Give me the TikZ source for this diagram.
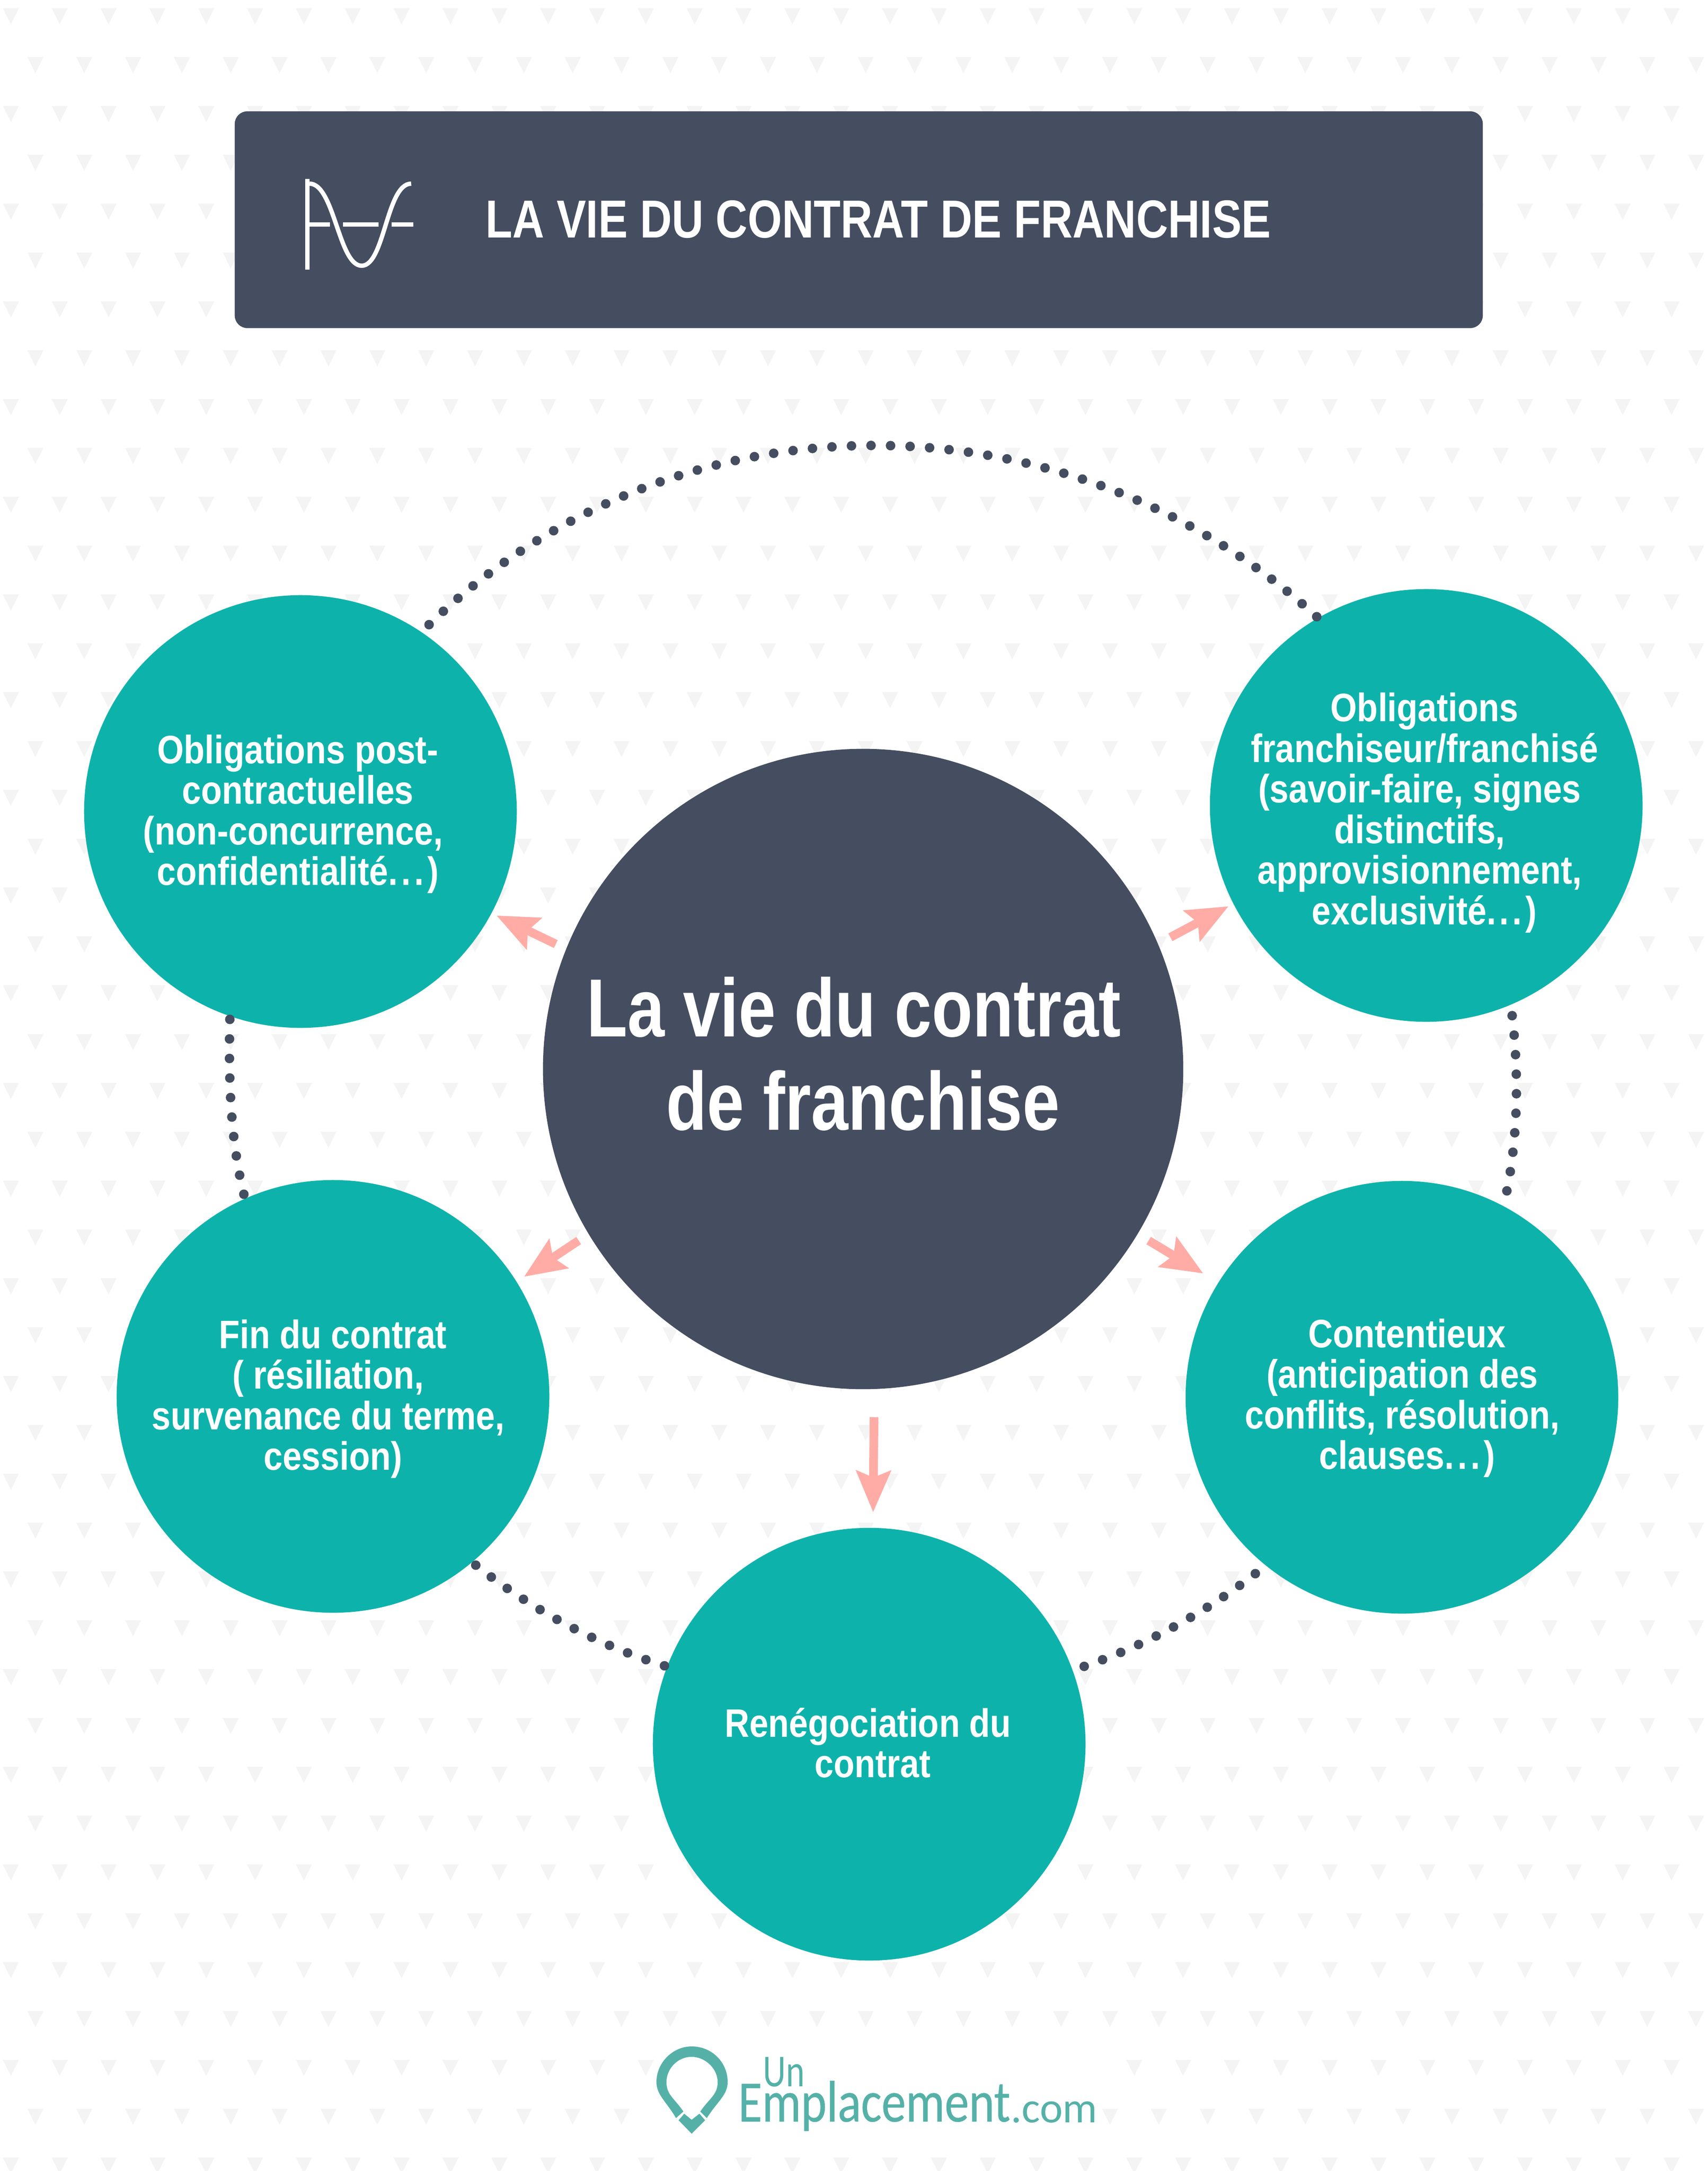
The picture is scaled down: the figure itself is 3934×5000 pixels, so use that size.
\documentclass[tikz,border=0pt]{standalone}
\usepackage{fontspec}
\setmainfont{Liberation Sans}
\newfontfamily\stagefont[FakeStretch=0.86]{Liberation Sans}
\newfontfamily\hubfont[FakeStretch=0.81]{Liberation Sans}
\newfontfamily\titlefont[FakeStretch=0.825]{Liberation Sans}
\newfontfamily\logofont[FakeStretch=0.78]{Carlito}
\newfontfamily\logomid[FakeStretch=0.83,FakeBold=0.4]{Carlito}
\newfontfamily\logowide{Carlito}
\usetikzlibrary{arrows.meta}
\newcommand{\tsp}{~\mbox{}}
\newcommand{\wdots}{.\kern2.3pt.\kern2.3pt.\kern2.3pt}
\definecolor{slatecol}{HTML}{454E60}
\definecolor{tealcol}{HTML}{0DB3AB}
\definecolor{salmoncol}{HTML}{FFACA6}
\definecolor{tricol}{HTML}{F4F4F4}
\definecolor{logocol}{HTML}{55B1A8}
\tikzset{
    stage/.style={circle,fill=tealcol,minimum size=9.96cm,inner sep=0pt},
    stagetext/.style={text=white,align=center,inner sep=0pt,
        font=\stagefont\bfseries\fontsize{26}{26.6}\selectfont},
    hub/.style={circle,fill=slatecol,minimum size=14.74cm,inner sep=0pt},
    hubtext/.style={text=white,align=center,font=\hubfont\bfseries\fontsize{54}{61}\selectfont},
    banner/.style={rectangle,fill=slatecol,rounded corners=.29cm,minimum width=28.73cm,minimum height=4.99cm,inner sep=0pt},
    titletext/.style={text=white,anchor=west,inner sep=0pt,font=\titlefont\bfseries\fontsize{35}{40}\selectfont},
    ringdots/.style={slatecol,line width=.22cm,line cap=round,dash pattern=on 0pt off .45cm},
    flow/.style={salmoncol,line width=.2cm,-{Stealth[length=.95cm,width=.78cm,inset=.15cm]}},
    logotext/.style={text=logocol,anchor=base west,inner sep=0pt},
}
\begin{document}
\begin{tikzpicture}[x=0.01cm,y=-0.01cm]
    \useasboundingbox (0,0) rectangle (3934,5000);

    \foreach \k in {0,2,...,44}
        \foreach \i in {0,...,34}
            \fill[tricol] ({6.5+112.5*\i},{19+112.5*\k}) -- ++(37,0) -- ++(-18.5,37) -- cycle;
    \foreach \k in {1,3,...,43}
        \foreach \i in {0,...,34}
            \fill[tricol] ({63+112.5*\i},{19+112.5*\k}) -- ++(37,0) -- ++(-18.5,37) -- cycle;
    \fill[white] (1510,4680) rectangle (2530,4950);

    \node[banner] (banner) at (1978,506) {};
    \node[titletext] (title) at (1118,505) {LA VIE DU CONTRAT DE FRANCHISE};

    \coordinate (stemtop) at (708,412);
    \coordinate (stembot) at (708,621);
    \draw[white,line width=.1cm] (stemtop) -- (stembot);
    \draw[white,line width=.1cm] (713,517) -- (760,517);
    \draw[white,line width=.1cm] (790,517) -- (872,517);
    \draw[white,line width=.1cm] (902,517) -- (952,517);
    \draw[white,line width=.1cm] (713,423) .. controls (770,423) and (780,612) .. (833,612) .. controls (886,612) and (890,423) .. (947,423);

    \node[hub] (hub) at (1988,2462) {};
    \node[hubtext] (hublabel) at (1988,2427) {La vie du contrat\tsp\\de franchise};

    \node[stage] (ul) at (692,1869) {};
    \node[stage] (ur) at (3285,1855) {};
    \node[stage] (lr) at (3229,3218) {};
    \node[stage] (ll) at (767,3216) {};
    \node[stage] (bottom) at (2002,4017) {};

    \node[stagetext] (ultext) at (686,1875) {Obligations post-\\contractuelles\\(non-concurrence,\tsp\\confidentialité\wdots)};
    \node[stagetext] (urtext) at (3281,1872) {Obligations\\franchiseur/franchisé\\(savoir-faire, signes\tsp\\distinctifs,\tsp\\approvisionnement,\tsp\\exclusivité\wdots)};
    \node[stagetext] (lrtext) at (3241,3220) {Contentieux\\(anticipation des\tsp\\conflits, résolution,\tsp\\clauses\wdots)};
    \node[stagetext] (lltext) at (767,3222) {Fin du contrat\\( résiliation,\tsp\\survenance du terme,\tsp\\cession)};
    \node[stagetext] (bottomtext) at (2010,4014) {Renégociation du\tsp\\contrat};

    \draw[ringdots,shorten <=.24cm] (ul.56.4) .. controls (1552,893) and (2453,889) .. (ur.120.2);
    \draw[ringdots,shorten <=.25cm] (ur.-67.4) .. controls (3498,2467) and (3499,2625) .. (lr.62.8);
    \draw[ringdots,shorten <=.3cm] (lr.231) .. controls (2784,3708) and (2634,3795) .. (bottom.20);
    \draw[ringdots,shorten <=.06cm] (bottom.159.4) .. controls (1374,3788) and (1221,3705) .. (ll.-50.4);
    \draw[ringdots,shorten <=.1cm] (ll.114.4) .. controls (530,2622) and (526,2481) .. (ul.251.3);

    \draw[flow,shorten <=.32cm,shorten >=.12cm] (hub.23) -- (ur.207.7);
    \draw[flow,shorten <=.29cm,shorten >=.4cm] (hub.-31.7) -- (lr.148.5);
    \draw[flow,shorten <=.26cm,shorten >=.12cm] (hub.158.6) -- (ul.-28);
    \draw[flow,shorten <=.27cm,shorten >=.2cm] (hub.211.8) -- (ll.32.3);
    \draw[flow,shorten <=.64cm,shorten >=.35cm] (hub.-88.9) -- (bottom.89.6);

    \fill[logocol] (1557,4878) .. controls (1535,4840) and (1512,4825) .. (1512,4795)
        .. controls (1512,4750) and (1550,4713) .. (1593,4713)
        .. controls (1640,4713) and (1676,4750) .. (1676,4795)
        .. controls (1676,4825) and (1652,4840) .. (1628,4878)
        -- (1613,4863) .. controls (1634,4832) and (1653,4825) .. (1653,4795)
        .. controls (1653,4765) and (1625,4737) .. (1593,4737)
        .. controls (1560,4737) and (1535,4765) .. (1535,4795)
        .. controls (1535,4825) and (1553,4832) .. (1574,4863) -- cycle;
    \fill[logocol] (1563,4883) -- (1576,4868) -- (1593,4882) -- (1611,4868) -- (1624,4883) -- (1593,4914) -- cycle;
    \node[logotext,font=\logofont\fontsize{30}{30}\selectfont] (logoun) at (1757,4805) {Un};
    \node[logotext,font=\logomid\fontsize{38.4}{40}\selectfont] (logoname) at (1700,4886) {Emplacement};
    \node[logotext,font=\logowide\fontsize{28.4}{30}\selectfont] (logocom) at (2328,4888) {.com};
\end{tikzpicture}
\end{document}
